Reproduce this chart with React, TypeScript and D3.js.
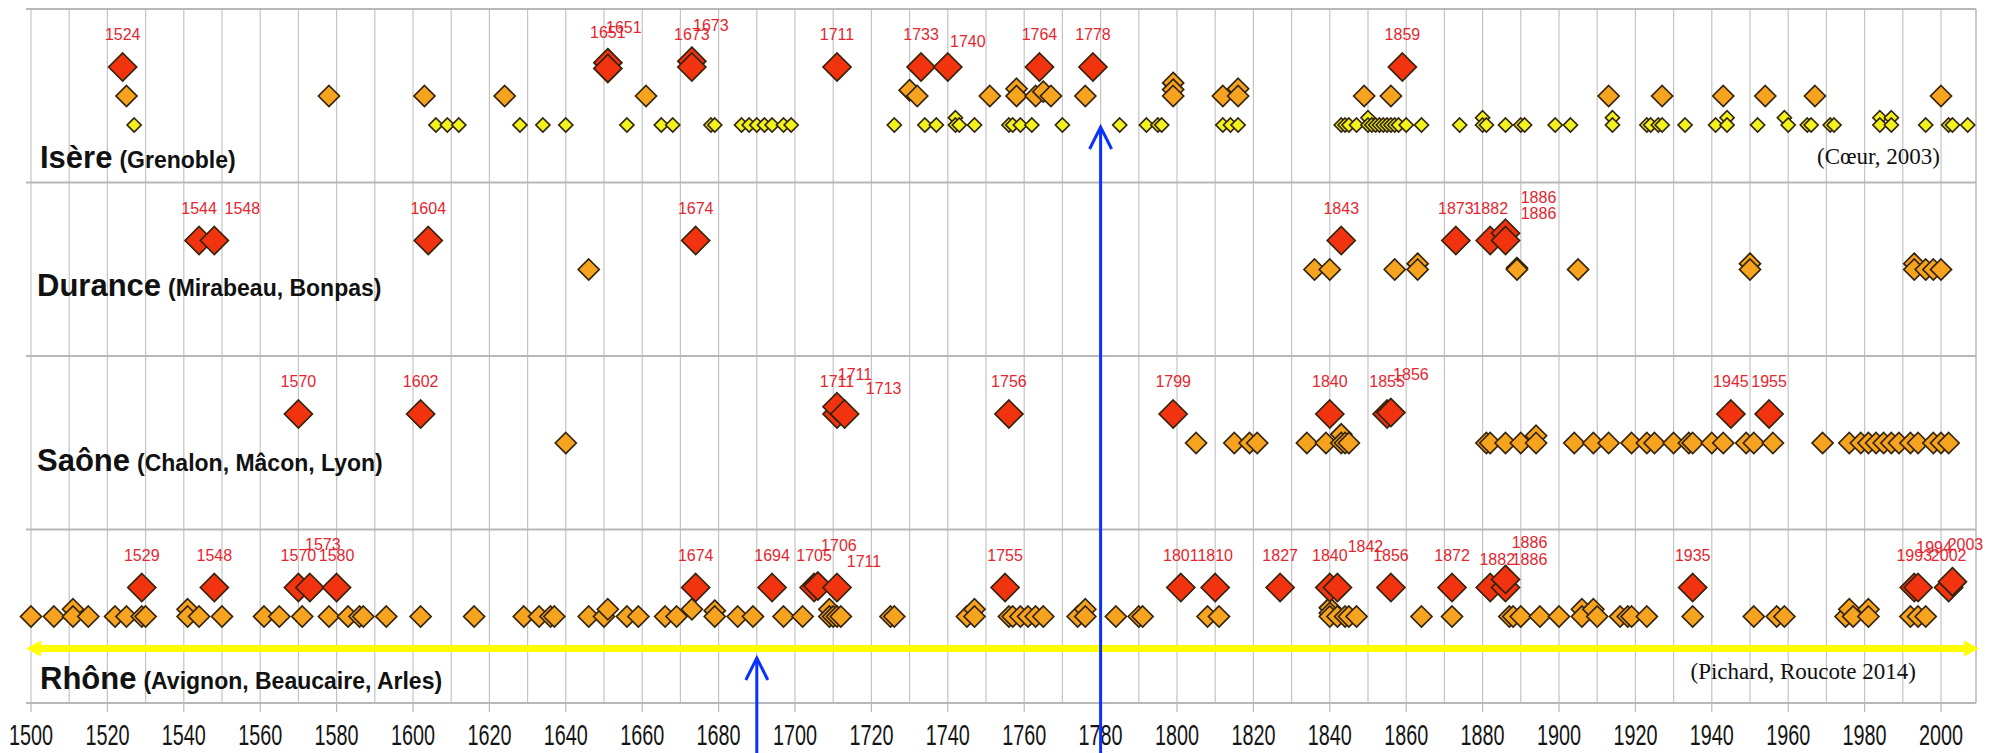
import React from 'react';
import * as d3 from 'd3';

type Pt = [number, number]; // [year, level]

// ---------- data ----------
const tickYears = [1500, 1520, 1540, 1560, 1580, 1600, 1620, 1640, 1660, 1680, 1700, 1720, 1740, 1760, 1780, 1800, 1820, 1840, 1860, 1880, 1900, 1920, 1940, 1960, 1980, 2000];
const gridYears = [1500, 1510, 1520, 1530, 1540, 1550, 1560, 1570, 1580, 1590, 1600, 1610, 1620, 1630, 1640, 1650, 1660, 1670, 1680, 1690, 1700, 1710, 1720, 1730, 1740, 1750, 1760, 1770, 1780, 1790, 1800, 1810, 1820, 1830, 1840, 1850, 1860, 1870, 1880, 1890, 1900, 1910, 1920, 1930, 1940, 1950, 1960, 1970, 1980, 1990, 2000];

const riverNames = ['Isère', 'Durance', 'Saône', 'Rhône'];
const riverPlaces = ['(Grenoble)', '(Mirabeau, Bonpas)', '(Chalon, Mâcon, Lyon)', '(Avignon, Beaucaire, Arles)'];

const isereRed: Pt[] = [[1524, 3], [1651, 3.15], [1651, 2.95], [1673, 3.2], [1673, 3], [1711, 3], [1733, 3], [1740, 3], [1764, 3], [1778, 3], [1859, 3]];
const isereOrange: Pt[] = [[1525, 2], [1578, 2], [1603, 2], [1624, 2], [1661, 2], [1730, 2.2], [1732, 2], [1751, 2], [1758, 2.25], [1758, 2], [1763, 2], [1765, 2.15], [1767, 2], [1776, 2], [1799, 2.45], [1799, 2.22], [1799, 2], [1812, 2], [1816, 2.25], [1816, 2], [1849, 2], [1856, 2], [1913, 2], [1927, 2], [1943, 2], [1954, 2], [1967, 2], [2000, 2]];
const isereYellow: Pt[] = [[1527, 1], [1606, 1], [1609, 1], [1612, 1], [1628, 1], [1634, 1], [1640, 1], [1656, 1], [1665, 1], [1668, 1], [1678, 1], [1679, 1], [1686, 1], [1688, 1], [1690, 1], [1692, 1], [1694, 1], [1697, 1], [1699, 1], [1726, 1], [1734, 1], [1737, 1], [1742, 1.25], [1742, 1], [1743, 1], [1747, 1], [1756, 1], [1757, 1], [1759, 1], [1762, 1], [1770, 1], [1785, 1], [1792, 1], [1795, 1], [1796, 1], [1812, 1], [1814, 1], [1816, 1], [1843, 1], [1844, 1], [1845, 1], [1847, 1], [1850, 1.25], [1850, 1], [1851, 1], [1852, 1], [1853, 1], [1854, 1], [1855, 1], [1856, 1], [1857, 1], [1858, 1], [1860, 1], [1864, 1], [1874, 1], [1880, 1.25], [1880, 1], [1881, 1], [1886, 1], [1890, 1], [1891, 1], [1899, 1], [1903, 1], [1914, 1.25], [1914, 1], [1923, 1], [1924, 1], [1926, 1], [1927, 1], [1933, 1], [1941, 1], [1944, 1.25], [1944, 1], [1952, 1], [1959, 1.25], [1960, 1], [1965, 1], [1966, 1], [1971, 1], [1972, 1], [1984, 1.25], [1984, 1], [1987, 1.25], [1987, 1], [1996, 1], [2002, 1], [2003, 1], [2007, 1]];

const duranceRed: Pt[] = [[1544, 3], [1548, 3], [1604, 3], [1674, 3], [1843, 3], [1873, 3], [1882, 3], [1886, 3.25], [1886, 3]];
const duranceOrange: Pt[] = [[1646, 2], [1836, 2], [1840, 2], [1857, 2], [1863, 2.2], [1863, 2], [1889, 2.05], [1889, 2], [1905, 2], [1950, 2.2], [1950, 2], [1993, 2.2], [1993, 2], [1996, 2], [1998, 2], [2000, 2]];

const saoneRed: Pt[] = [[1570, 3], [1602, 3], [1711, 3], [1711, 3.25], [1713, 3], [1756, 3], [1799, 3], [1840, 3], [1855, 3], [1856, 3.05], [1945, 3], [1955, 3]];
const saoneOrange: Pt[] = [[1640, 2], [1805, 2], [1815, 2], [1819, 2], [1821, 2], [1834, 2], [1839, 2], [1843, 2.3], [1843, 2], [1844, 2], [1845, 2], [1881, 2], [1882, 2], [1886, 2], [1890, 2], [1894, 2.25], [1894, 2], [1904, 2], [1909, 2], [1913, 2], [1919, 2], [1923, 2], [1925, 2], [1930, 2], [1934, 2], [1935, 2], [1940, 2], [1943, 2], [1949, 2], [1951, 2], [1956, 2], [1969, 2], [1976, 2], [1979, 2], [1981, 2], [1983, 2], [1985, 2], [1987, 2], [1989, 2], [1992, 2], [1994, 2], [1998, 2], [2000, 2], [2002, 2]];

const rhoneRed: Pt[] = [[1529, 3], [1548, 3], [1570, 3], [1573, 3], [1580, 3], [1674, 3], [1694, 3], [1705, 3], [1706, 3.05], [1711, 3], [1755, 3], [1801, 3], [1810, 3], [1827, 3], [1840, 3], [1842, 3], [1856, 3], [1872, 3], [1882, 3], [1886, 3], [1886, 3.28], [1935, 3], [1993, 3], [1994, 3], [2002, 3], [2003, 3.2]];
const rhoneOrange: Pt[] = [[1500, 2], [1506, 2], [1511, 2.25], [1511, 2], [1515, 2], [1522, 2], [1525, 2], [1529, 2], [1530, 2], [1541, 2.25], [1541, 2], [1544, 2], [1550, 2], [1561, 2], [1565, 2], [1571, 2], [1578, 2], [1583, 2], [1586, 2], [1587, 2], [1593, 2], [1602, 2], [1616, 2], [1629, 2], [1633, 2], [1636, 2], [1637, 2], [1646, 2], [1650, 2], [1651, 2.25], [1656, 2], [1659, 2], [1666, 2], [1669, 2], [1673, 2.25], [1679, 2.2], [1679, 2], [1685, 2], [1689, 2], [1697, 2], [1702, 2], [1709, 2.25], [1709, 2], [1710, 2], [1711, 2], [1712, 2], [1725, 2], [1726, 2], [1745, 2], [1747, 2.25], [1747, 2], [1756, 2], [1757, 2], [1759, 2], [1761, 2], [1763, 2], [1765, 2], [1774, 2], [1776, 2.25], [1776, 2], [1784, 2], [1790, 2], [1791, 2], [1808, 2], [1811, 2], [1840, 2.3], [1840, 2.12], [1840, 2], [1842, 2], [1844, 2], [1845, 2], [1847, 2], [1864, 2], [1872, 2], [1887, 2], [1888, 2], [1890, 2], [1895, 2], [1900, 2], [1906, 2.25], [1906, 2], [1909, 2.25], [1910, 2], [1916, 2], [1918, 2], [1919, 2], [1923, 2], [1935, 2], [1951, 2], [1957, 2], [1959, 2], [1975, 2], [1976, 2.25], [1977, 2], [1981, 2.25], [1981, 2], [1992, 2], [1994, 2], [1996, 2]];

const arrowYears = [1690, 1780];
const sources = ['(Cœur, 2003)', '(Pichard, Roucote 2014)'];

// ---------- layout ----------
const W = 1991, H = 753;
const plotL = 26, plotR = 1976, plotT = 9, panelH = 173.5;
const plotB = plotT + 4 * panelH;
const x = d3.scaleLinear().domain([1500, 2000]).range([31, 1941]);

const panelY = (i: number) => d3.scaleLinear().domain([3, 1]).range([plotT + i * panelH + 58, plotT + i * panelH + 116]);

// label shifts for overlapping data labels (layout only)
const labelShift: Record<string, [number, number]> = {
  '0-1': [16, -3], '0-2': [0, -3], '0-3': [19, -3], '0-7': [20, 7],
  '1-1': [28, 0], '1-7': [33, -3], '1-8': [33, 5],
  '2-3': [18, 0], '2-4': [39, 7], '2-9': [20, -6],
  '3-3': [13, -11], '3-8': [21, -8], '3-9': [27, 6], '3-15': [28, -9], '3-18': [7, 4], '3-19': [24, 4], '3-20': [24, -4], '3-23': [16, -8], '3-25': [13, -5],
};

const riverLabelPos: [number, number][] = [[40, 159], [37, 113], [37, 115], [40, 159]];

const FILL = { red: '#f2330f', orange: '#f6a41f', yellow: '#f2f21c' };
const HALF = { red: 14, orange: 10.5, yellow: 7 };
const STROKE = '#33230c';
const SANS = '"Liberation Sans", Arial, Helvetica, sans-serif';
const SERIF = '"Liberation Serif", "Times New Roman", serif';

const diamond = (r: number) => `M0,${-r}L${r},0L0,${r}L${-r},0Z`;

const rivers = [
  { red: isereRed, orange: isereOrange, yellow: isereYellow },
  { red: duranceRed, orange: duranceOrange, yellow: [] as Pt[] },
  { red: saoneRed, orange: saoneOrange, yellow: [] as Pt[] },
  { red: rhoneRed, orange: rhoneOrange, yellow: [] as Pt[] },
];

export default function App() {
  const yArrow = plotT + 3 * panelH + 119;
  return (
    <svg width={W} height={H} viewBox={`0 0 ${W} ${H}`} style={{ position: 'absolute', left: 0, top: 0, display: 'block', background: '#fff' }}>
      <rect x={0} y={0} width={W} height={H} fill="#fff" />
      {/* grid */}
      {gridYears.map((g) => (
        <line key={'g' + g} x1={x(g)} x2={x(g)} y1={plotT} y2={plotB} stroke="#c4c4c4" strokeWidth={1.2} />
      ))}
      <line x1={plotR} x2={plotR} y1={plotT} y2={plotB} stroke="#b8b8b8" strokeWidth={1.5} />
      {[0, 1, 2, 3, 4].map((i) => (
        <line key={'h' + i} x1={plotL} x2={plotR} y1={plotT + i * panelH} y2={plotT + i * panelH} stroke="#b8b8b8" strokeWidth={1.8} />
      ))}
      {tickYears.map((t) => (
        <line key={'t' + t} x1={x(t)} x2={x(t)} y1={plotB} y2={plotB + 9} stroke="#b8b8b8" strokeWidth={1.2} />
      ))}
      {tickYears.map((t) => (
        <text key={'tl' + t} transform={`translate(${x(t)},745) scale(0.66,1)`} textAnchor="middle" fontFamily={SANS} fontSize={30} fill="#151515">{t}</text>
      ))}

      {/* river labels */}
      {riverNames.map((n, i) => (
        <text key={'rn' + i} x={riverLabelPos[i][0]} y={plotT + i * panelH + riverLabelPos[i][1]} fontFamily={SANS} fontWeight="bold" fill="#111">
          <tspan fontSize={31}>{n}</tspan>
          <tspan fontSize={23} dx={7}>{riverPlaces[i]}</tspan>
        </text>
      ))}

      {/* yellow double arrow */}
      <g fill="#ffff00">
        <rect x={38} y={yArrow - 3.5} width={1928} height={7} />
        <path d={`M26,${yArrow}L41,${yArrow - 8}L41,${yArrow + 8}Z`} />
        <path d={`M1979,${yArrow}L1964,${yArrow - 8}L1964,${yArrow + 8}Z`} />
      </g>

      {/* points */}
      {rivers.map((r, i) => {
        const y = panelY(i);
        return (
          <g key={'p' + i}>
            {(['yellow', 'orange', 'red'] as const).map((k) =>
              r[k].map((p, j) => (
                <path key={k + j} d={diamond(HALF[k])} transform={`translate(${x(p[0])},${y(p[1])})`} fill={FILL[k]} stroke={STROKE} strokeWidth={1.7} strokeLinejoin="miter" />
              ))
            )}
            {r.red.map((p, j) => {
              const s = labelShift[`${i}-${j}`] || [0, 0];
              return (
                <text key={'l' + j} x={x(p[0]) + s[0]} y={y(p[1]) - 27 + s[1]} textAnchor="middle" fontFamily={SANS} fontSize={16} fill="#e4262f">{p[0]}</text>
              );
            })}
          </g>
        );
      })}

      {/* sources */}
      <text x={1940} y={164} textAnchor="end" fontFamily={SERIF} fontSize={23} fill="#111">{sources[0]}</text>
      <text x={1916} y={679} textAnchor="end" fontFamily={SERIF} fontSize={23} fill="#111">{sources[1]}</text>

      {/* blue arrows */}
      {arrowYears.map((a, k) => {
        const ax = x(a);
        const tip = k === 0 ? 658 : 127;
        return (
          <g key={'a' + a} stroke="#0a32ff" strokeWidth={3} fill="none">
            <line x1={ax} x2={ax} y1={tip} y2={H} />
            <path d={`M${ax - 11},${tip + 22}L${ax},${tip}L${ax + 11},${tip + 22}`} />
          </g>
        );
      })}
    </svg>
  );
}
